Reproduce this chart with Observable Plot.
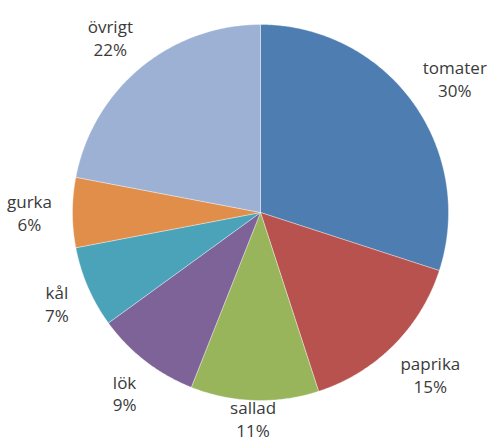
<!DOCTYPE html>
<html>
<head>
<meta charset="utf-8">
<script src="https://cdn.jsdelivr.net/npm/d3@7"></script>
<script src="https://cdn.jsdelivr.net/npm/@observablehq/plot@0.6"></script>
<style>
  html, body { margin: 0; padding: 0; background: #fff; }
</style>
</head>
<body>
<div id="chart"></div>
<script>
const categories = ["tomater", "paprika", "sallad", "lök", "kål", "gurka", "övrigt"];
const shares = [30, 15, 11, 9, 7, 6, 22];
const colors = ["#4E7DB2", "#B8524F", "#98B55B", "#7E6399", "#4BA3BA", "#E08E49", "#9DB1D5"];

const total = d3.sum(shares);
// slice angles, clockwise from 12 o'clock
let acc = 0;
const slices = categories.map((name, i) => {
  const a0 = acc / total * 2 * Math.PI;
  acc += shares[i];
  const a1 = acc / total * 2 * Math.PI;
  return {name, value: shares[i], a0, a1};
});

// polygon outline of each slice in unit coordinates
const outline = [];
for (const s of slices) {
  outline.push({name: s.name, x: 0, y: 0});
  const n = Math.max(2, Math.ceil((s.a1 - s.a0) / (Math.PI / 360)));
  for (let k = 0; k <= n; k++) {
    const a = s.a0 + (s.a1 - s.a0) * k / n;
    outline.push({name: s.name, x: Math.sin(a), y: Math.cos(a)});
  }
  outline.push({name: s.name, x: 0, y: 0});
}

// label anchor: just outside the rim, pushed out by half the label box
const R = 188; // pixel radius (x range / 2)
const labels = slices.map(s => {
  const m = (s.a0 + s.a1) / 2;
  const dx = Math.sin(m), dy = Math.cos(m);
  const halfW = Math.max(s.name.length, 3) * 4.6 / R;
  const halfH = 20 / R;
  const rr = (R + 20) / R;
  let x = dx * rr + halfW * dx;
  let y = dy * rr + halfH * dy;
  y = Math.max(y, -1.095); // keep inside the frame
  return {name: s.name, text: `${s.name}\n${s.value}%`, x, y};
});

const chart = Plot.plot({
  width: 494,
  height: 444,
  x: {domain: [-1, 1], range: [72, 448], axis: null},
  y: {domain: [-1, 1], range: [400, 24], axis: null},
  color: {domain: categories, range: colors},
  style: {fontFamily: "'Open Sans', sans-serif", background: "#fff"},
  marks: [
    Plot.line(outline, {
      x: "x", y: "y", z: "name", fill: "name",
      stroke: "white", strokeWidth: 0.6, strokeOpacity: 0.6,
      curve: "linear"
    }),
    Plot.text(labels, {
      x: "x", y: "y", text: "text",
      fontSize: 17, lineHeight: 1.35, fill: "#3a3a3a",
      textAnchor: "middle", lineAnchor: "middle"
    })
  ]
});
document.getElementById("chart").appendChild(chart);
</script>
</body>
</html>
